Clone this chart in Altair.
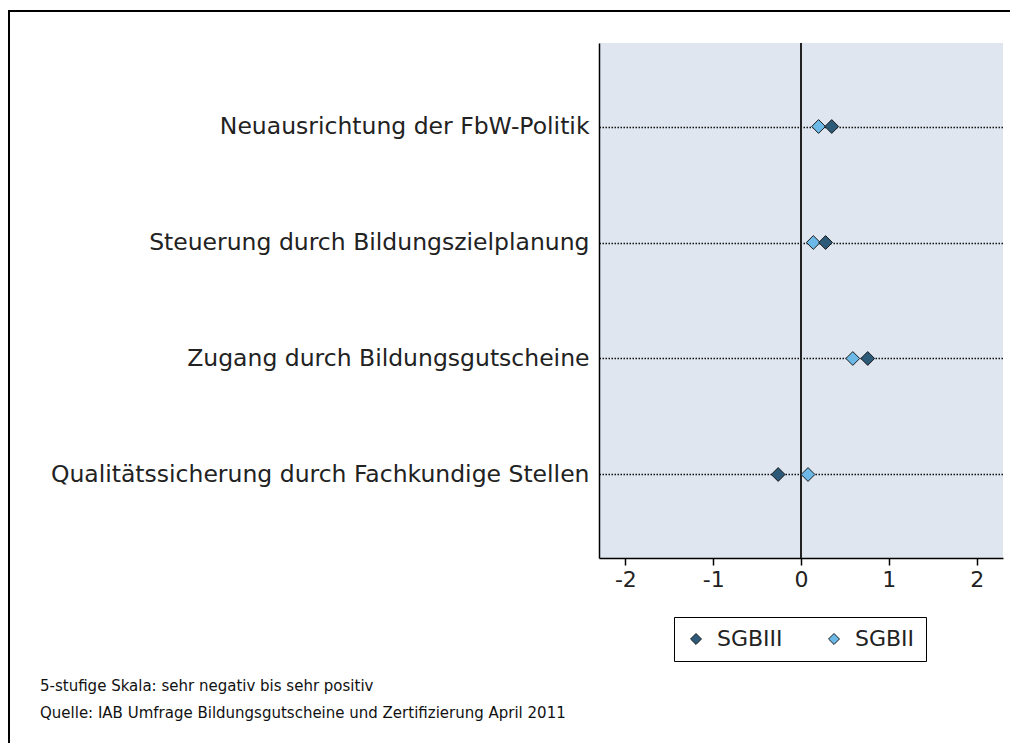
import altair as alt
import pandas as pd

categories = [
    "Neuausrichtung der FbW-Politik",
    "Steuerung durch Bildungszielplanung",
    "Zugang durch Bildungsgutscheine",
    "Qualitätssicherung durch Fachkundige Stellen",
]
sgbiii = [0.35, 0.28, 0.76, -0.26]
sgbii = [0.20, 0.14, 0.59, 0.08]
series = ["SGBIII", "SGBII"]
x_ticks = [-2, -1, 0, 1, 2]
footnotes = [
    "5-stufige Skala: sehr negativ bis sehr positiv",
    "Quelle: IAB Umfrage Bildungsgutscheine und Zertifizierung April 2011",
]

rows = []
for c, v in zip(categories, sgbii):
    rows.append({"Kategorie": c, "Gruppe": "SGBII", "Wert": v})
for c, v in zip(categories, sgbiii):
    rows.append({"Kategorie": c, "Gruppe": "SGBIII", "Wert": v})
df = pd.DataFrame(rows)

FONT = "DejaVu Sans"
LABEL_SIZE = 23.5
TICK_SIZE = 22

x_scale = alt.Scale(domain=[-2.3, 2.3], nice=False, zero=False)
y_scale = alt.Scale(type="point", domain=categories, padding=0.72)

points = alt.Chart(df).mark_point(
    shape="diamond", filled=True, size=190, stroke="#1a1a1a", strokeWidth=1, opacity=1
).encode(
    x=alt.X("Wert:Q", scale=x_scale,
            axis=alt.Axis(values=x_ticks, title=None, grid=False, domainColor="black",
                          domainWidth=1.5, tickColor="black", tickSize=7, tickWidth=1.5,
                          labelFontSize=TICK_SIZE, labelFont=FONT, labelColor="#222",
                          labelPadding=4, labelExpr="'' + datum.value")),
    y=alt.Y("Kategorie:N", scale=y_scale, sort=categories,
            axis=alt.Axis(title=None, ticks=False, grid=True, gridColor="#111",
                          gridDash=[1.5, 1.5], gridWidth=1.5, domainColor="black",
                          domainWidth=1.5, labelFontSize=LABEL_SIZE, labelFont=FONT,
                          labelColor="#222", labelPadding=10, labelLimit=800)),
    color=alt.Color("Gruppe:N",
                    scale=alt.Scale(domain=series, range=["#2c5a78", "#6cb8e6"]),
                    legend=alt.Legend(title=None, orient="none", legendX=75, legendY=574,
                                      direction="horizontal", strokeColor="black",
                                      padding=11, symbolType="diamond", symbolSize=120,
                                      symbolStrokeColor="#1a1a1a", symbolStrokeWidth=1,
                                      labelFontSize=TICK_SIZE, labelFont=FONT,
                                      labelColor="#222", labelOffset=10,
                                      columnPadding=40)),
    order=alt.Order("Gruppe:N", sort="ascending"),
)

zero = alt.Chart(pd.DataFrame({"x": [0]})).mark_rule(color="#222", strokeWidth=2).encode(
    x=alt.X("x:Q", scale=x_scale)
)

frame = alt.Chart(pd.DataFrame({"a": [0]})).mark_rect(
    fill=None, stroke="black", strokeWidth=2, clip=False
).encode(
    x=alt.value(-590), x2=alt.value(700), y=alt.value(-32), y2=alt.value(900)
)

notes = []
for i, t in enumerate(footnotes):
    notes.append(
        alt.Chart(pd.DataFrame({"t": [t]})).mark_text(
            align="left", baseline="middle", font=FONT, fontSize=15, color="#111"
        ).encode(text="t:N", x=alt.value(-559), y=alt.value(643 + 27 * i))
    )

chart = alt.layer(zero, points, frame, *notes).properties(
    width=404, height=515,
    autosize=alt.AutoSizeParams(type="none"),
    padding={"left": 591, "top": 35, "right": 7, "bottom": 185},
).configure(background="white").configure_view(fill="#dfe6f0", stroke=None)

chart.save("out.html", embed_options={"renderer": "svg", "actions": False})
